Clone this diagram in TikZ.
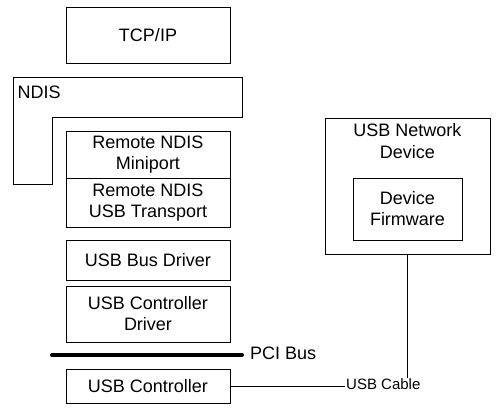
\documentclass[tikz,border=0pt]{standalone}
\usepackage{fontspec}
\setmainfont{Liberation Sans}
\begin{document}
\begin{tikzpicture}[x=1pt, y=-1pt,
    layer/.style={draw, line width=1pt, inner sep=0pt, align=center,
        font=\fontsize{18}{21}\selectfont},
    wire/.style={line width=1pt}]
    \useasboundingbox (0,0) rectangle (501,410);

    % Host stack
    \node[layer, minimum width=164pt, minimum height=56pt] (tcpip) at (148,35) {TCP/IP};

    % NDIS block (L shape)
    \draw[wire] (13,77) -- (242,77) -- (242,117) -- (52,117) -- (52,184) -- (13,184) -- cycle;
    \node[anchor=base west, font=\fontsize{18}{21}\selectfont] (ndis) at (14,98) {NDIS};

    \node[layer, minimum width=164pt, minimum height=47pt] (miniport) at (148,154.5) {Remote NDIS\\Miniport};
    \node[layer, minimum width=164pt, minimum height=49pt] (transport) at (148,202.5) {Remote NDIS\\USB Transport};
    \node[layer, minimum width=164pt, minimum height=40pt] (busdriver) at (148,260) {USB Bus Driver};
    \node[layer, minimum width=164pt, minimum height=56pt] (ctrldriver) at (148,314) {USB Controller\\Driver};

    % PCI bus
    \coordinate (pcileft) at (52,355);
    \coordinate (pciright) at (242,355);
    \draw[line width=4pt, line cap=round] (pcileft) -- (pciright);
    \node[anchor=west, inner sep=0pt, font=\fontsize{18}{21}\selectfont] (pcibus) at (250,353) {PCI Bus};

    \node[layer, minimum width=164pt, minimum height=34pt] (controller) at (148,386) {USB Controller};

    % Device side
    \node[layer, minimum width=165pt, minimum height=136pt] (netdevice) at (407.5,186) {};
    \node[anchor=north, align=center, inner sep=0pt, font=\fontsize{18}{22}\selectfont] (devlabel) at (407.5,123) {USB Network\\Device};
    \node[layer, minimum width=109pt, minimum height=62pt] (firmware) at (407.5,209) {Device\\Firmware};

    % USB cable
    \node[anchor=west, inner sep=1pt, font=\fontsize{15}{16}\selectfont] (cable) at (345,384.5) {USB Cable};
    \draw[wire] (controller.east) -- (controller.east -| cable.west);
    \draw[wire] (netdevice.south) -- (netdevice.south |- cable.north);
\end{tikzpicture}
\end{document}
